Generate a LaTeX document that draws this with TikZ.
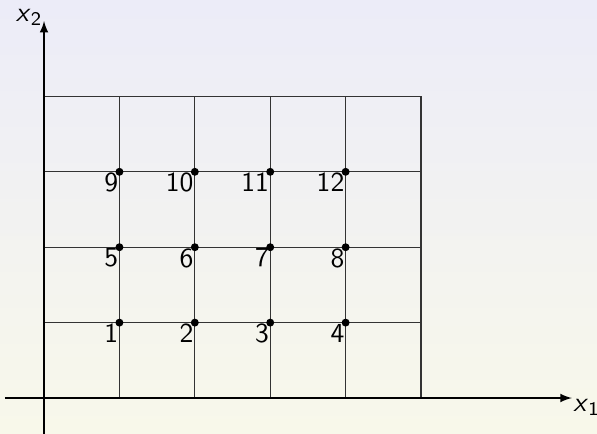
\documentclass[tikz,border=0pt]{standalone}
\usepackage{xcolor}
\definecolor{bgtop}{RGB}{236,236,248}
\definecolor{bgbottom}{RGB}{248,248,234}
\definecolor{gridink}{HTML}{333333}

\begin{document}
\begin{tikzpicture}[
  x=1cm,
  y=1cm,
  every node/.style={font=\fontsize{10.4}{12}\selectfont\sffamily},
  gridpt/.style={circle, fill=black, inner sep=0pt, minimum size=3pt},
  numlabel/.style={anchor=north east, inner sep=0.3pt}
]
  \shade[top color=bgtop, bottom color=bgbottom] (-0.584,-0.477) rectangle (7.334,5.279);
  \useasboundingbox (-0.584,-0.477) rectangle (7.334,5.279);

  \draw[gridink, line width=0.4pt] (0,0) grid (5,4);

  \coordinate (xs) at (-0.52,0);
  \coordinate (xe) at (7,0);
  \coordinate (ys) at (0,-0.6);
  \coordinate (ye) at (0,5);
  \draw[-latex, line width=0.5pt] (xs) -- (xe);
  \draw[-latex, line width=0.5pt] (ys) -- (ye);

  \node[anchor=north west, inner sep=1pt] (xone) at (6.98,0.02) {\textit{x}\textsubscript{1}};
  \node[anchor=east, inner sep=1pt] (xtwo) at (0.02,5.05) {\textit{x}\textsubscript{2}};

  \foreach \i [count=\n] in {1,...,12} {
    \pgfmathtruncatemacro{\col}{mod(\i-1,4)+1}
    \pgfmathtruncatemacro{\row}{div(\i-1,4)+1}
    \node[gridpt] (p\n) at (\col,\row) {};
    \node[numlabel] at (p\n.center) {\n};
  }
\end{tikzpicture}
\end{document}
